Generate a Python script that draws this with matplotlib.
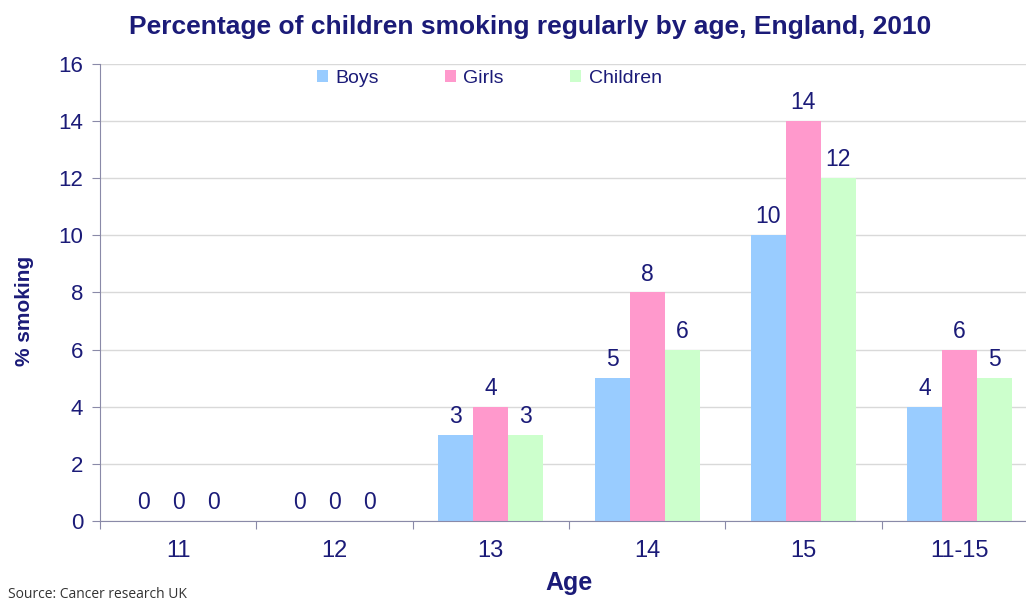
import numpy as np
import matplotlib.pyplot as plt

ages = ['11', '12', '13', '14', '15', '11-15']
boys = [0, 0, 3, 5, 10, 4]
girls = [0, 0, 4, 8, 14, 6]
children = [0, 0, 3, 6, 12, 5]
series_names = ['Boys', 'Girls', 'Children']
bar_colors = ['#99CCFF', '#FF99CC', '#CCFFCC']

navy = '#1B1B78'
plt.rcParams['font.family'] = ['Liberation Sans', 'DejaVu Sans']

fig = plt.figure(figsize=(10.26, 6.03), dpi=100)
ax = fig.add_axes([0.0975, 0.136, 0.914, 0.758])

x = np.arange(len(ages))
w = 0.224
for i, (vals, name, col) in enumerate(zip([boys, girls, children], series_names, bar_colors)):
    bars = ax.bar(x + (i - 1) * w, vals, w, color=col, label=name, zorder=2)
    for b, v in zip(bars, vals):
        ax.annotate(str(v), (b.get_x() + b.get_width() / 2, v), xytext=(0, 5),
                    textcoords='offset points', ha='center', va='bottom',
                    fontsize=16.5, color=navy)

ax.set_xlim(-0.5, len(ages) - 0.5)
ax.set_ylim(0, 16)
ax.set_yticks(range(0, 17, 2))
ax.yaxis.grid(True, color='#D9D9D9', linewidth=1, zorder=0)
ax.set_axisbelow(True)

# category labels sit between the boundary ticks
ax.set_xticks(np.arange(-0.5, len(ages), 1))
ax.set_xticklabels([])
ax.set_xticks(x, minor=True)
ax.set_xticklabels(ages, minor=True, fontsize=17, color=navy)
ax.tick_params(axis='x', which='minor', length=0, pad=14)
ax.tick_params(axis='x', which='major', length=6, color='#8A8AA8', direction='out')
ax.tick_params(axis='y', length=6, color='#8A8AA8', labelsize=16, labelcolor=navy, pad=6)

for s in ['top', 'right']:
    ax.spines[s].set_visible(False)
ax.spines['left'].set_color('#8A8AA8')
ax.spines['bottom'].set_color('#8A8AA8')

ax.set_xlabel('Age', fontsize=18, fontweight='bold', color=navy, labelpad=6)
ax.set_ylabel('% smoking', fontsize=15, fontweight='bold', color=navy)
ax.yaxis.set_label_coords(-0.07, 0.46)

fig.suptitle('Percentage of children smoking regularly by age, England, 2010',
             x=0.517, y=0.975, fontsize=19, fontweight='bold', color=navy)

leg = ax.legend(loc='upper center', bbox_to_anchor=(0.415, 1.025), ncol=3, frameon=False,
                handlelength=0.55, handleheight=0.55, handletextpad=0.4,
                columnspacing=3.4, fontsize=14)
for t in leg.get_texts():
    t.set_color(navy)

fig.text(0.008, 0.008, 'Source: Cancer research UK', fontsize=10, color='#333333',
         family=['Open Sans', 'DejaVu Sans'])

fig.savefig('out.png', dpi=100)
